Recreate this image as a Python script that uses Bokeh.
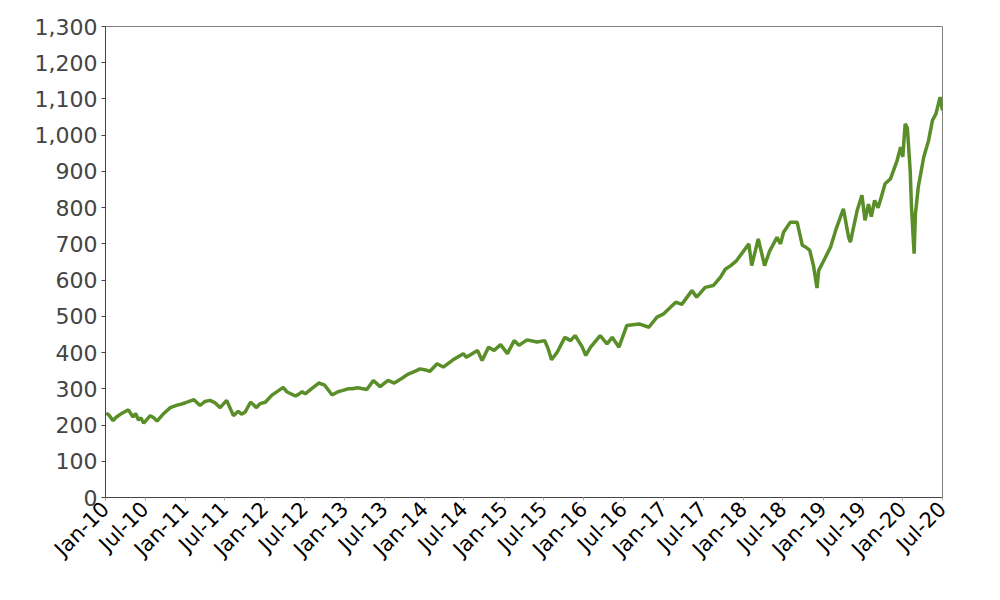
import math
import pandas as pd
from bokeh.plotting import figure
from bokeh.models import Range1d, FixedTicker, SingleIntervalTicker, NumeralTickFormatter, DatetimeTickFormatter
from bokeh.embed import file_html
from bokeh.resources import INLINE

dates = [
    "2010-01-04", "2010-01-16", "2010-02-05", "2010-02-16", "2010-03-16", "2010-04-16",
    "2010-05-07", "2010-05-19", "2010-06-01", "2010-06-12", "2010-06-25", "2010-07-25",
    "2010-08-10", "2010-08-25", "2010-09-25", "2010-10-25", "2010-11-25", "2010-12-16",
    "2011-01-10", "2011-02-10", "2011-03-10", "2011-04-01", "2011-04-25", "2011-05-16",
    "2011-06-10", "2011-07-10", "2011-08-10", "2011-09-01", "2011-09-16", "2011-10-03",
    "2011-10-27", "2011-11-10", "2011-11-22", "2011-12-10", "2012-01-03", "2012-02-01",
    "2012-03-25", "2012-04-10", "2012-05-20", "2012-06-01", "2012-06-20", "2012-07-04",
    "2012-08-01", "2012-09-04", "2012-10-01", "2012-11-04", "2012-12-01", "2012-12-20",
    "2013-01-16", "2013-02-04", "2013-03-01", "2013-04-12", "2013-05-12", "2013-06-12",
    "2013-07-18", "2013-08-16", "2013-09-22", "2013-10-16", "2013-11-18", "2013-12-12",
    "2014-01-06", "2014-01-25", "2014-02-28", "2014-03-28", "2014-05-12", "2014-06-28",
    "2014-07-12", "2014-09-01", "2014-09-22", "2014-10-22", "2014-11-16", "2014-12-16",
    "2015-01-16", "2015-02-16", "2015-03-10", "2015-04-16", "2015-06-01", "2015-07-06",
    "2015-07-22", "2015-08-06", "2015-09-01", "2015-10-06", "2015-11-01", "2015-11-22",
    "2015-12-25", "2016-01-10", "2016-02-01", "2016-03-16", "2016-04-16", "2016-05-10",
    "2016-06-10", "2016-07-16", "2016-09-10", "2016-10-25", "2016-12-01", "2017-01-01",
    "2017-02-25", "2017-03-25", "2017-05-10", "2017-06-01", "2017-07-10", "2017-08-16",
    "2017-09-18", "2017-10-10", "2017-11-04", "2017-12-01", "2018-01-26", "2018-02-08",
    "2018-03-10", "2018-04-08", "2018-05-01", "2018-06-04", "2018-06-20", "2018-07-04",
    "2018-08-04", "2018-09-04", "2018-09-28", "2018-10-16", "2018-11-01", "2018-11-18",
    "2018-12-04", "2018-12-12", "2019-01-01", "2019-02-04", "2019-03-01", "2019-04-04",
    "2019-04-28", "2019-05-06", "2019-06-06", "2019-06-28", "2019-07-12", "2019-07-28",
    "2019-08-10", "2019-08-25", "2019-09-10", "2019-09-25", "2019-10-12", "2019-11-06",
    "2019-12-06", "2019-12-22", "2020-01-01", "2020-01-12", "2020-01-22", "2020-02-04",
    "2020-02-10", "2020-02-22", "2020-02-28", "2020-03-12", "2020-04-06", "2020-04-28",
    "2020-05-16", "2020-06-01", "2020-06-20", "2020-07-01",
]
values = [
    233, 228, 212, 220, 232, 242,
    222, 232, 214, 220, 205, 226,
    220, 211, 232, 248, 255, 258,
    263, 270, 254, 265, 268, 262,
    248, 268, 226, 238, 230, 236,
    263, 256, 248, 259, 263, 282,
    304, 292, 280, 284, 292, 286,
    300, 316, 310, 283, 292, 295,
    300, 300, 303, 298, 323, 306,
    323, 316, 330, 340, 348, 355,
    352, 348, 369, 360, 380, 397,
    387, 406, 378, 415, 406, 422,
    397, 433, 420, 435, 429, 433,
    410, 380, 401, 442, 433, 447,
    415, 392, 415, 447, 424, 442,
    415, 475, 479, 470, 498, 507,
    539, 533, 571, 553, 580, 585,
    608, 630, 640, 654, 700, 640,
    714, 640, 680, 718, 700, 732,
    760, 760, 696, 690, 682, 640,
    578, 627, 650, 691, 740, 797,
    718, 705, 792, 834, 765, 810,
    775, 820, 800, 830, 866, 880,
    930, 967, 940, 1031, 1020, 902,
    801, 673, 783, 857, 939, 985,
    1041, 1059, 1105, 1068,
]
tick_dates = [f"{y}-{m:02d}-01" for y in range(2010, 2021) for m in (1, 7)][:22]

x = pd.to_datetime(dates)
ticks_ms = [pd.Timestamp(d).value // 10**6 for d in tick_dates]

p = figure(width=992, height=580, output_backend="svg", toolbar_location=None,
           x_axis_type="datetime",
           x_range=Range1d(pd.Timestamp("2010-01-01"), pd.Timestamp("2020-07-01")),
           y_range=Range1d(0, 1300),
           min_border_left=105, min_border_right=50, min_border_top=26, min_border_bottom=83)

p.line(x, values, line_color="#5a8e28", line_width=3.5)

p.xgrid.visible = False
p.ygrid.visible = False
p.outline_line_color = "#808080"
p.outline_line_width = 1

fmt = "%b-%y"
p.xaxis.ticker = FixedTicker(ticks=ticks_ms)
p.xaxis.formatter = DatetimeTickFormatter(milliseconds=fmt, seconds=fmt, minsec=fmt, minutes=fmt,
                                          hourmin=fmt, hours=fmt, days=fmt, months=fmt, years=fmt)
p.xaxis.major_label_orientation = math.pi / 4
p.xaxis.major_label_text_font = "DejaVu Sans"
p.xaxis.major_label_text_font_size = "21px"
p.xaxis.major_label_text_color = "#000000"
p.xaxis.minor_tick_line_color = None
p.xaxis.major_tick_in = 0
p.xaxis.major_tick_out = 3
p.xaxis.axis_line_color = "#444444"
p.xaxis.major_tick_line_color = "#aaaaaa"

p.yaxis.ticker = SingleIntervalTicker(interval=100)
p.yaxis.formatter = NumeralTickFormatter(format="0,0")
p.yaxis.major_label_text_font = "DejaVu Sans"
p.yaxis.major_label_text_font_size = "22px"
p.yaxis.major_label_text_color = "#444444"
p.yaxis.minor_tick_line_color = None
p.yaxis.major_tick_in = 0
p.yaxis.major_tick_out = 4
p.yaxis.major_label_standoff = 4
p.yaxis.axis_line_color = "#444444"
p.yaxis.major_tick_line_color = "#444444"

open("out.html", "w").write(file_html(p, INLINE))
